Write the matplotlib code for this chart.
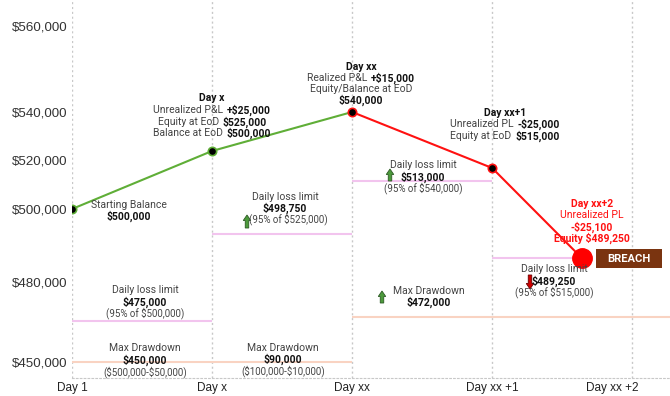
import numpy as np
import matplotlib
matplotlib.use("Agg")
import matplotlib.pyplot as plt
from matplotlib.transforms import IdentityTransform, ScaledTranslation
from matplotlib.patches import FancyArrow, Rectangle

# ---------------- data ----------------
days = ["Day 1", "Day x", "Day xx", "Day xx +1", "Day xx +2"]
equity_x = [0, 1, 2, 3, 3.64]
equity = [500000, 525000, 540000, 515000, 489250]

# daily loss limit segments (start day, end day, value)
dll_start = [0, 1, 2, 3]
dll_end = [1, 2, 3, 3.64]
dll_value = [475000, 498750, 513000, 489250]

# max drawdown segments
mdd_start = [0, 2]
mdd_end = [2, 4.27]
mdd_value = [450000, 472000]

ytick_values = [450000, 480000, 500000, 520000, 540000, 560000]

# schematic (non-linear) value axis of the original diagram
SCALE_VALUES = [444000, 450000, 472000, 475000, 480000, 489250, 498750,
                500000, 513000, 515000, 525000, 540000, 560000, 566000]
SCALE_PIXELS = [378, 362, 317, 321, 282, 258, 234,
                209, 181, 168, 151, 112, 26, 0]

W, H = 670, 396
fig = plt.figure(figsize=(W / 100, H / 100), dpi=100)
ax = fig.add_axes([72 / W, (H - 378) / H, (W - 72) / W, 378 / H])

pos = 378 - np.array(SCALE_PIXELS, dtype=float)
vals = np.array(SCALE_VALUES, dtype=float)
fwd = lambda v: np.interp(v, vals, pos)
inv = lambda p: np.interp(p, pos, vals)
ax.set_yscale("function", functions=(fwd, inv))
ax.set_ylim(SCALE_VALUES[0], SCALE_VALUES[-1])
ax.set_xlim(0, 4.27)

# grid
for i in range(len(days)):
    ax.axvline(i, color="#c8c8c8", lw=1, ls=(0, (1.5, 2)), zorder=0)
for s in ["left", "right", "top"]:
    ax.spines[s].set_visible(False)
ax.spines["bottom"].set_color("#c8c8c8")
ax.spines["bottom"].set_linestyle((0, (1.5, 2)))

# limit lines
for a, b, v in zip(dll_start, dll_end, dll_value):
    ax.plot([a, b], [v, v], color="#f2c4ee", lw=1.5, zorder=1, solid_capstyle="butt")
for a, b, v in zip(mdd_start, mdd_end, mdd_value):
    ax.plot([a, b], [v, v], color="#f9d3c2", lw=1.5, zorder=1, solid_capstyle="butt", clip_on=False)

# equity line
ax.plot(equity_x[:3], equity[:3], color="#5fae37", lw=1.5, zorder=3)
ax.plot(equity_x[2:], equity[2:], color="#ff1111", lw=1.5, zorder=3)
ax.plot(equity_x[:2], equity[:2], "o", color="black", mec="#5fae37", mew=1.2, ms=6, zorder=4)
ax.plot(equity_x[2:4], equity[2:4], "o", color="black", mec="#ff1111", mew=1.2, ms=6, zorder=4)
ax.plot(equity_x[4:], equity[4:], "o", color="#ff0000", ms=14, zorder=5, clip_on=False)

# ticks
ax.set_yticks(ytick_values)
ax.set_yticklabels([f"${v:,.0f}" for v in ytick_values], fontsize=9.6,
                   family="Liberation Sans", color="#333333")
ax.set_xticks(range(len(days)))
ax.set_xticklabels(days, fontsize=8.5, family="Liberation Sans", color="#222222")
ax.tick_params(length=0, pad=3)
ax.tick_params(axis="x", pad=3)
ax.yaxis.set_minor_locator(matplotlib.ticker.NullLocator())
lab = ax.get_xticklabels()[-1]
lab.set_transform(lab.get_transform() + ScaledTranslation(-0.2, 0, fig.dpi_scale_trans))

# ---------------- annotation helpers ----------------
renderer = fig.canvas.get_renderer()
GRAY = "#444444"


def line_text(xc, y, parts, size=7.5):
    arts, widths = [], []
    for s, bold, c in parts:
        t = fig.text(0, 0, s, fontsize=size, fontweight="bold" if bold else "normal",
                     color=c, family="Roboto", transform=IdentityTransform(),
                     ha="left", va="center", parse_math=False)
        arts.append(t)
        widths.append(t.get_window_extent(renderer=renderer).width)
    gap = 3.5
    total = sum(widths) + gap * (len(arts) - 1)
    x = xc - total / 2
    for t, w in zip(arts, widths):
        t.set_position((x, H - y))
        x += w + gap


def up_arrow(x, ytop, ybot, fc, ec):
    a = FancyArrow(x, H - ybot, 0, ybot - ytop, width=3.5, head_width=7.5, head_length=5.5,
                   length_includes_head=True, fc=fc, ec=ec, lw=0.6, transform=IdentityTransform())
    fig.add_artist(a)


def down_arrow(x, ytop, ybot, fc, ec):
    a = FancyArrow(x, H - ytop, 0, -(ybot - ytop), width=3.5, head_width=7.5, head_length=5.5,
                   length_includes_head=True, fc=fc, ec=ec, lw=0.6, transform=IdentityTransform())
    fig.add_artist(a)


K = "#111111"
# Starting balance
line_text(129, 205, [("Starting Balance", False, GRAY)])
line_text(129, 216, [("$500,000", True, K)])

# Day x
line_text(212, 98, [("Day x", True, K)])
line_text(212, 110, [("Unrealized P&L", False, GRAY), ("+$25,000", True, K)])
line_text(212, 122, [("Equity at EoD", False, GRAY), ("$525,000", True, K)])
line_text(212, 133, [("Balance at EoD", False, GRAY), ("$500,000", True, K)])

# Day xx
line_text(361, 67, [("Day xx", True, K)])
line_text(361, 78, [("Realized P&L", False, GRAY), ("+$15,000", True, K)])
line_text(361, 89, [("Equity/Balance at EoD", False, GRAY)])
line_text(361, 100, [("$540,000", True, K)])

# Day xx+1
line_text(505, 113, [("Day xx+1", True, K)])
line_text(505, 124, [("Unrealized PL", False, GRAY), ("-$25,000", True, K)])
line_text(505, 136, [("Equity at EoD", False, GRAY), ("$515,000", True, K)])

# Day xx+2 (red)
R = "#ff1111"
line_text(592, 204, [("Day xx+2", True, R)])
line_text(592, 215, [("Unrealized PL", False, R)])
line_text(592, 227, [("-$25,100", True, R)])
line_text(592, 238, [("Equity $489,250", True, R)])

# daily loss limits
line_text(145, 290, [("Daily loss limit", False, GRAY)])
line_text(145, 302, [("$475,000", True, K)])
line_text(145, 313, [("(95% of $500,000)", False, GRAY)], size=7)

line_text(285, 197, [("Daily loss limit", False, GRAY)])
line_text(285, 208, [("$498,750", True, K)])
line_text(288, 219, [("(95% of $525,000)", False, GRAY)], size=7)
up_arrow(247, 215, 228, "#4c9a3c", "#2c5a24")

line_text(423, 165, [("Daily loss limit", False, GRAY)])
line_text(423, 177, [("$513,000", True, K)])
line_text(423, 188, [("(95% of $540,000)", False, GRAY)], size=7)
up_arrow(390, 169, 181, "#4c9a3c", "#2c5a24")

line_text(554, 269, [("Daily loss limit", False, GRAY)])
line_text(554, 281, [("$489,250", True, K)])
line_text(554, 292, [("(95% of $515,000)", False, GRAY)], size=7)
down_arrow(530, 275, 289, "#d00000", "#6a0000")

# max drawdowns
line_text(145, 348, [("Max Drawdown", False, GRAY)])
line_text(145, 360, [("$450,000", True, K)])
line_text(145, 372, [("($500,000-$50,000)", False, GRAY)], size=7)

line_text(283, 348, [("Max Drawdown", False, GRAY)])
line_text(283, 359, [("$90,000", True, K)])
line_text(283, 371, [("($100,000-$10,000)", False, GRAY)], size=7)

line_text(429, 291, [("Max Drawdown", False, GRAY)])
line_text(429, 302, [("$472,000", True, K)])
up_arrow(382, 291, 303, "#4c9a3c", "#2c5a24")

# breach box
fig.add_artist(Rectangle((596, H - 268), 66, 19, fc="#7a3410", ec="none",
                         transform=IdentityTransform()))
fig.text(629, H - 258.5, "BREACH", color="white", fontweight="bold", fontsize=8,
         family="Roboto", ha="center", va="center", transform=IdentityTransform())

fig.savefig("out.png", dpi=100)
